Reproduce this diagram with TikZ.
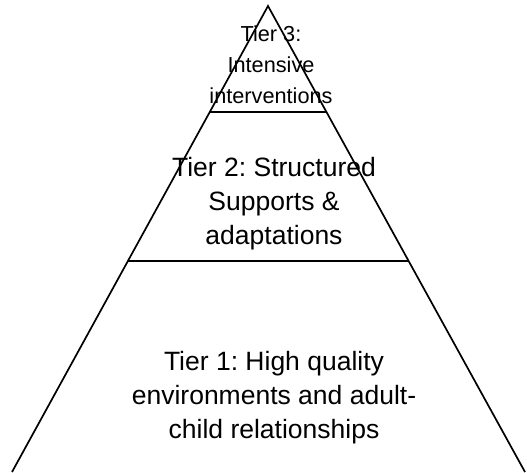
\documentclass[tikz,border=0pt]{standalone}
\usepackage{fontspec}
\setmainfont{Liberation Sans}
\usetikzlibrary{calc}
\frenchspacing

\begin{document}
\begin{tikzpicture}[x=1pt,y=-1pt,line width=1.7pt,
  tier/.style={align=center,inner sep=0pt,font=\fontsize{26.5}{34}\selectfont},
  top tier/.style={align=center,inner sep=0pt,font=\fontsize{21.7}{31}\selectfont}]
\useasboundingbox (0,0) rectangle (527,472);
\coordinate (t) at (268,6);
\coordinate (l) at (12,472);
\coordinate (r) at (525,472);
\coordinate (a) at ($(t)!0.2275!(l)$);
\coordinate (b) at ($(t)!0.2275!(r)$);
\coordinate (c) at ($(t)!0.547!(l)$);
\coordinate (d) at ($(t)!0.547!(r)$);
\draw (l) -- (t) -- (r);
\draw (a) -- (b);
\draw (c) -- (d);
\node [top tier] (x) at (271,65) {Tier 3:\\Intensive\\interventions};
\node [tier] (y) at (274,204) {Tier 2: Structured\\Supports \&\\adaptations};
\node [tier] (z) at (274,398) {Tier 1: High quality\\environments and adult-\\child relationships};
\end{tikzpicture}
\end{document}
